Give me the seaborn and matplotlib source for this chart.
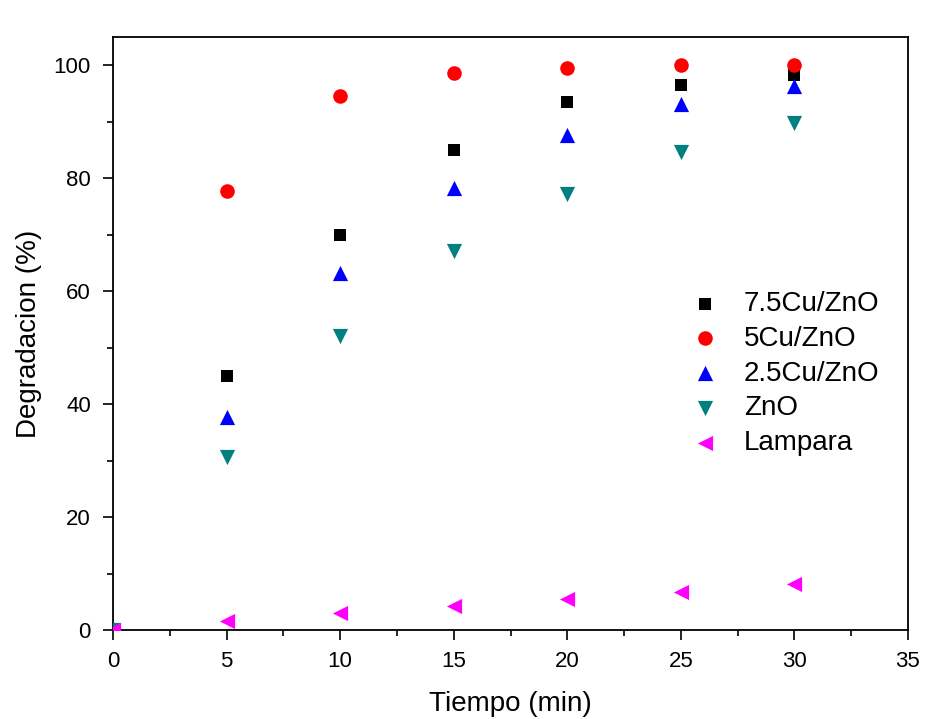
import matplotlib
matplotlib.use("Agg")
import matplotlib.pyplot as plt
import seaborn as sns
import pandas as pd
from matplotlib.ticker import MultipleLocator

tiempo = [0, 5, 10, 15, 20, 25, 30]
cu75 = [0, 45.0, 70.0, 85.0, 93.5, 96.5, 98.2]
cu5 = [0, 77.7, 94.5, 98.6, 99.6, 100.0, 100.0]
cu25 = [0, 37.8, 63.3, 78.3, 87.6, 93.1, 96.3]
zno = [0, 30.7, 52.1, 67.1, 77.2, 84.6, 89.8]
lampara = [0, 1.6, 3.0, 4.2, 5.5, 6.7, 8.1]

series = ["7.5Cu/ZnO", "5Cu/ZnO", "2.5Cu/ZnO", "ZnO", "Lampara"]
values = [cu75, cu5, cu25, zno, lampara]
colors = ["#000000", "#FF0000", "#0000FF", "#008080", "#FF00FF"]
markers = ["s", "o", "^", "v", "<"]
sizes = [85, 110, 120, 120, 120]

sns.set_style("white")
plt.rcParams["font.family"] = ["Liberation Sans", "DejaVu Sans"]
plt.rcParams["text.color"] = "black"
plt.rcParams["axes.labelcolor"] = "black"

rows = []
for name, vals in zip(series, values):
    for t, v in zip(tiempo, vals):
        rows.append({"Tiempo": t, "Degradacion": v, "Muestra": name})
df = pd.DataFrame(rows)

fig = plt.figure(figsize=(9.38, 7.19), dpi=100)
ax = fig.add_axes([0.1205, 0.1238, 0.8475, 0.8247])

for name, col, mk, s in zip(series, colors, markers, sizes):
    sub = df[df["Muestra"] == name]
    sns.scatterplot(data=sub, x="Tiempo", y="Degradacion", color=col, marker=mk,
                    s=s, linewidth=0, ax=ax, label=name, clip_on=True, zorder=3)

ax.set_xlim(0, 35)
ax.set_ylim(0, 105)
ax.xaxis.set_major_locator(MultipleLocator(5))
ax.xaxis.set_minor_locator(MultipleLocator(2.5))
ax.yaxis.set_major_locator(MultipleLocator(20))
ax.yaxis.set_minor_locator(MultipleLocator(10))
ax.tick_params(which="major", direction="out", length=7, width=1.2, labelsize=16,
               bottom=True, left=True, colors="black")
ax.tick_params(axis="x", which="major", pad=8)
ax.tick_params(axis="y", which="major", pad=9)
ax.tick_params(which="minor", direction="out", length=4, width=1.2, bottom=True, left=True,
               colors="black")
for sp in ax.spines.values():
    sp.set_linewidth(1.3)
    sp.set_color("black")

ax.set_xlabel("Tiempo (min)", fontsize=20, labelpad=14)
ax.set_ylabel("Degradacion (%)", fontsize=20, labelpad=8)

leg = ax.legend(loc="upper left", bbox_to_anchor=(0.71, 0.572), frameon=False,
                fontsize=20, handletextpad=0.4, labelspacing=0.32, markerscale=1.0,
                borderaxespad=0, borderpad=0)

fig.savefig("out.png", dpi=100, facecolor="white")
